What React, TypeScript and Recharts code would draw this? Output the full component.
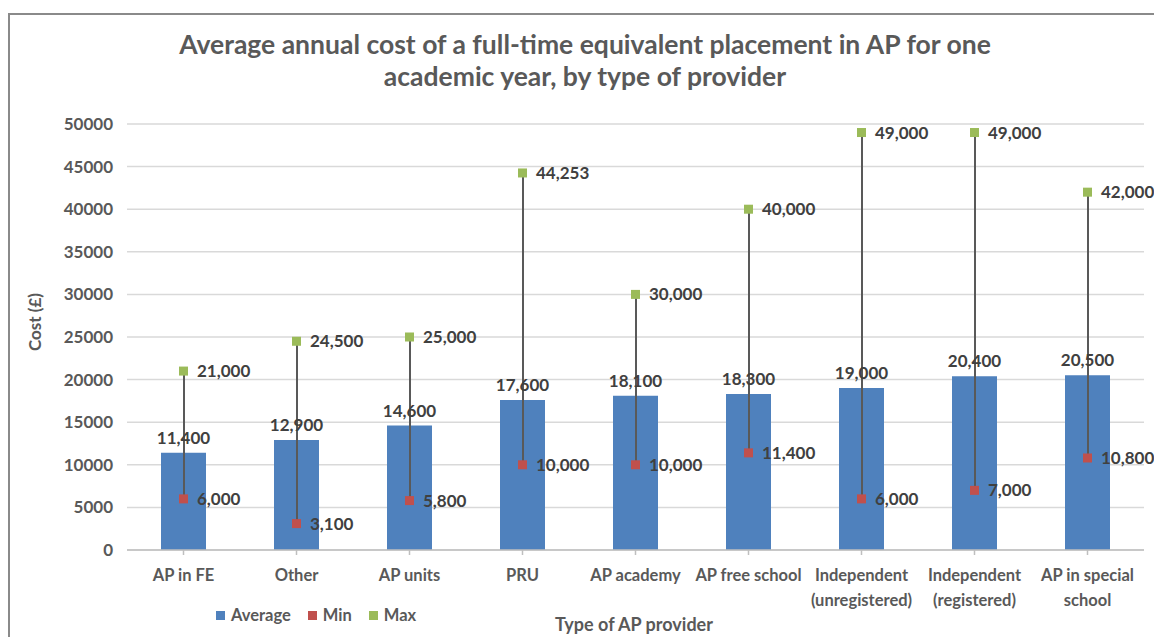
import React from 'react';
import {
  ComposedChart, Bar, Scatter, XAxis, YAxis, CartesianGrid, Legend, LabelList,
} from 'recharts';

const categories = [
  'AP in FE', 'Other', 'AP units', 'PRU', 'AP academy', 'AP free school',
  'Independent\n(unregistered)', 'Independent\n(registered)', 'AP in special\nschool',
];
const averageValues = [11400, 12900, 14600, 17600, 18100, 18300, 19000, 20400, 20500];
const minValues = [6000, 3100, 5800, 10000, 10000, 11400, 6000, 7000, 10800];
const maxValues = [21000, 24500, 25000, 44253, 30000, 40000, 49000, 49000, 42000];
const yTicks = [0, 5000, 10000, 15000, 20000, 25000, 30000, 35000, 40000, 45000, 50000];

const data = categories.map((c, i) => ({
  name: c,
  average: averageValues[i],
  min: minValues[i],
  max: maxValues[i],
  range: [minValues[i], maxValues[i]],
}));

const FONT = 'Lato, "Open Sans", sans-serif';
const AXIS_COLOR = '#595959';
const LABEL_COLOR = '#404040';
const BLUE = '#4F81BD';
const RED = '#C0504D';
const GREEN = '#9BBB59';

const fmt = (v: any) => Number(v).toLocaleString('en-US');

const CategoryTick = (props: any) => {
  const { x, y, payload } = props;
  const lines = String(payload.value).split('\n');
  return (
    <g transform={`translate(${x},${y})`}>
      {lines.map((l, i) => (
        <text key={i} x={0} y={24 + i * 25} textAnchor="middle" fill={AXIS_COLOR}
          fontFamily={FONT} fontSize={16.5} fontWeight={700}>{l}</text>
      ))}
    </g>
  );
};

const squareShape = (color: string) => (p: any) => (
  <rect x={p.cx - 4.5} y={p.cy - 4.5} width={9} height={9} fill={color} />
);

const legendItems = [
  { label: 'Average', color: BLUE },
  { label: 'Min', color: RED },
  { label: 'Max', color: GREEN },
];

const LegendContent = () => (
  <div style={{ display: 'flex', alignItems: 'center', fontFamily: FONT, fontSize: 16.5, fontWeight: 700, color: AXIS_COLOR, whiteSpace: 'nowrap' }}>
    {legendItems.map((it) => (
      <div key={it.label} style={{ display: 'flex', alignItems: 'center', marginRight: 17 }}>
        <span style={{ display: 'inline-block', width: 9, height: 9, background: it.color, marginRight: 6 }} />
        <span>{it.label}</span>
      </div>
    ))}
  </div>
);

export default function App() {
  return (
    <div style={{ position: 'absolute', left: 0, top: 0, width: 1154, height: 637, overflow: 'hidden', background: '#fff' }}>
      <div style={{ position: 'absolute', left: 8, top: 13, width: 1200, height: 700, borderTop: '2px solid #8a8a8a', borderLeft: '2px solid #8a8a8a' }} />
      <div style={{
        position: 'absolute', left: 135, top: 28, width: 900, textAlign: 'center',
        fontFamily: FONT, fontWeight: 700, fontSize: 26.5, lineHeight: '32px', color: AXIS_COLOR,
      }}>
        Average annual cost of a full-time equivalent placement in AP for one<br />academic year, by type of provider
      </div>
      <div style={{ position: 'absolute', left: 0, top: 0 }}>
        <ComposedChart width={1154} height={637} data={data}
          margin={{ top: 124, right: 10, bottom: 37, left: 0 }}>
          <CartesianGrid vertical={false} stroke="#D9D9D9" strokeWidth={1.5} />
          <XAxis dataKey="name" height={50} interval={0} tick={<CategoryTick />}
            stroke="#BFBFBF" strokeWidth={1.5} tickSize={5} tickLine={{ stroke: '#BFBFBF' }}
            label={{
              content: () => (
                <text x={634} y={631} textAnchor="middle" fill={AXIS_COLOR}
                  fontFamily={FONT} fontSize={18} fontWeight={700}>Type of AP provider</text>
              ),
            }} />
          <XAxis xAxisId="hl" dataKey="name" hide />
          <YAxis domain={[0, 50000]} ticks={yTicks} width={127} axisLine={false} tickLine={false}
            tickMargin={8} interval={0}
            tick={{ fill: AXIS_COLOR, fontFamily: FONT, fontSize: 17, fontWeight: 700 }}
            label={{
              content: () => (
                <text x={41} y={322} textAnchor="middle" fill={AXIS_COLOR} transform="rotate(-90 41 322)"
                  fontFamily={FONT} fontSize={17} fontWeight={700}>Cost (£)</text>
              ),
            }} />
          <Bar dataKey="average" name="Average" fill={BLUE} barSize={45} isAnimationActive={false}>
            <LabelList dataKey="average" position="top" offset={9} formatter={fmt}
              fill={LABEL_COLOR} fontFamily={FONT} fontSize={17} fontWeight={700} />
          </Bar>
          <Bar xAxisId="hl" dataKey="range" fill="#595959" barSize={2} isAnimationActive={false} legendType="none" />
          <Scatter dataKey="min" name="Min" fill={RED} shape={squareShape(RED)} isAnimationActive={false}>
            <LabelList dataKey="min" position="right" offset={9} formatter={fmt}
              fill={LABEL_COLOR} fontFamily={FONT} fontSize={17} fontWeight={700} />
          </Scatter>
          <Scatter dataKey="max" name="Max" fill={GREEN} shape={squareShape(GREEN)} isAnimationActive={false}>
            <LabelList dataKey="max" position="right" offset={9} formatter={fmt}
              fill={LABEL_COLOR} fontFamily={FONT} fontSize={17} fontWeight={700} />
          </Scatter>
          <Legend verticalAlign="middle" align="center" layout="horizontal" content={<LegendContent />}
            wrapperStyle={{ position: 'absolute', left: 216, top: 605, width: 'auto', height: 'auto' }} />
        </ComposedChart>
      </div>
    </div>
  );
}
